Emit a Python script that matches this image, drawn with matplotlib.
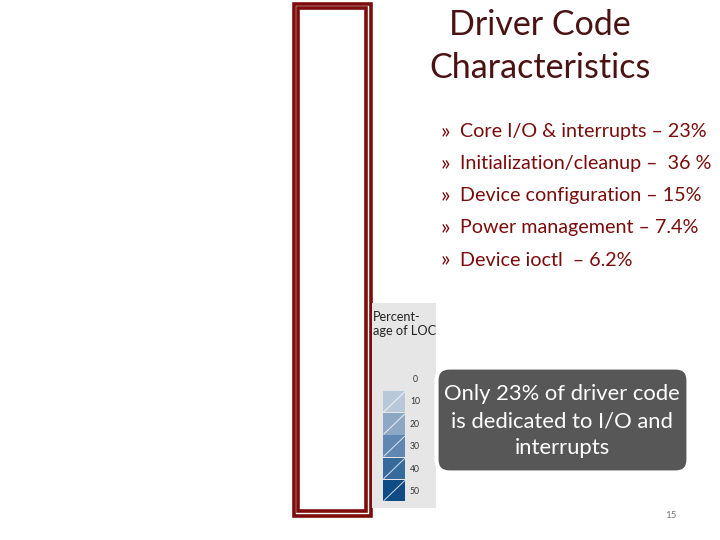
import matplotlib
matplotlib.use("Agg")
import matplotlib.pyplot as plt
from matplotlib.patches import Rectangle, FancyBboxPatch

# ---- data ----
title_lines = ["Driver Code", "Characteristics"]
categories = ["Core I/O & interrupts", "Initialization/cleanup", "Device configuration",
              "Power management", "Device ioctl"]
pct_labels = ["\u2013 23%", "\u2013  36 %", "\u2013 15%", "\u2013 7.4%", " \u2013 6.2%"]
legend_levels = [0, 10, 20, 30, 40, 50]
legend_colors = ["#b8c8d9", "#8ea8c4", "#5f87b2", "#366a9d", "#0f4c86"]
legend_title = "Percent-\nage of LOC"
callout_text = "Only 23% of driver code\nis dedicated to I/O and\ninterrupts"
page_number = "15"

FONT = ["Lato", "DejaVu Sans"]
RED = "#7a0c0c"

fig = plt.figure(figsize=(7.2, 5.4), dpi=100)
ax = fig.add_axes([0, 0, 1, 1])
ax.set_xlim(0, 720)
ax.set_ylim(540, 0)
ax.axis("off")

# double border frame
ax.add_patch(Rectangle((293.5, 3.5), 77, 512, fill=False, edgecolor="#7d0d0d", lw=2.6))
ax.add_patch(Rectangle((298, 8), 68, 503, fill=False, edgecolor="#7d0d0d", lw=2.6))

# title
ax.text(539.5, 25, title_lines[0], fontsize=24.5, color="#4a1212", ha="center", va="center", family=FONT)
ax.text(540, 68, title_lines[1], fontsize=24.5, color="#4a1212", ha="center", va="center", family=FONT)

# bullets
for i, (c, p) in enumerate(zip(categories, pct_labels)):
    y = 132 + 32 * i
    ax.text(441, y, "\u00bb", fontsize=16, color=RED, ha="left", va="center", family=FONT)
    ax.text(460, y, f"{c} {p}", fontsize=14.2, color=RED, ha="left", va="center", family=FONT)

# legend panel
ax.add_patch(Rectangle((372, 303), 64, 205, facecolor="#e6e6e6", edgecolor="none"))
ax.text(373, 324, legend_title, fontsize=9.2, color="#222222", ha="left", va="center",
        family=FONT, linespacing=1.15, clip_on=True)
sw_top, sw_h = 391, 22.2
for i, col in enumerate(legend_colors):
    y0 = sw_top + i * sw_h
    ax.add_patch(Rectangle((383, y0), 22, sw_h - 0.8, facecolor=col, edgecolor="none"))
    ax.plot([384, 404.5], [y0 + sw_h - 1.5, y0 + 1], color="white", lw=0.7, alpha=0.8)
for i, lv in enumerate(legend_levels):
    ax.text(415, 379 + i * 22.6, str(lv), fontsize=6.2, color="#333333", ha="center",
            va="center", family=FONT)

# callout
ax.add_patch(FancyBboxPatch((436.5, 367.5), 252, 105, boxstyle="round,pad=0,rounding_size=13",
                            facecolor="#575757", edgecolor="white", lw=3))
ax.text(562, 421, callout_text, fontsize=15.8, color="white", ha="center", va="center",
        family=FONT, linespacing=1.45)

# page number
ax.text(671, 516, page_number, fontsize=7, color="#777777", ha="center", va="center", family=FONT)

fig.savefig("out.png", dpi=100)
